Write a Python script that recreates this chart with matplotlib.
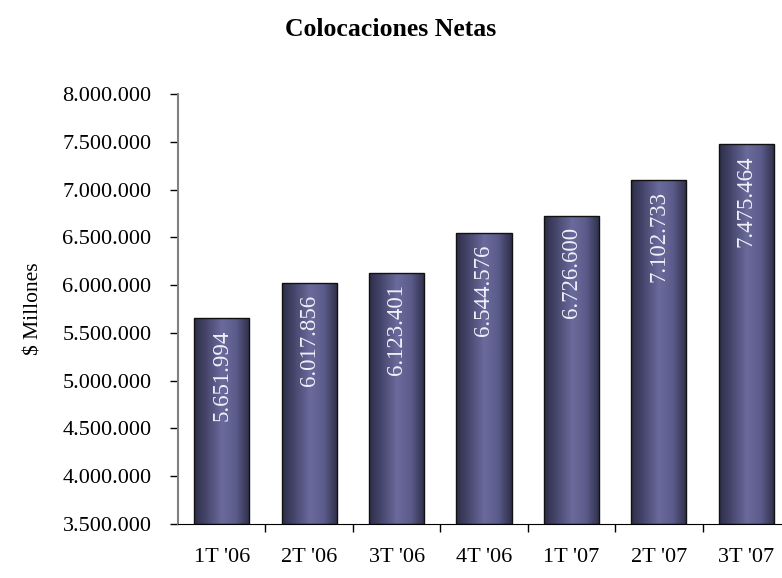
import numpy as np
import matplotlib
matplotlib.use("Agg")
import matplotlib.pyplot as plt
from matplotlib.colors import LinearSegmentedColormap
from matplotlib.patches import Rectangle

quarters = ["1T '06", "2T '06", "3T '06", "4T '06", "1T '07", "2T '07", "3T '07"]
values = [5651994, 6017856, 6123401, 6544576, 6726600, 7102733, 7475464]
yticks = [3500000, 4000000, 4500000, 5000000, 5500000, 6000000, 6500000, 7000000, 7500000, 8000000]


def fmt(v):
    return f"{v:,.0f}".replace(",", ".")


plt.rcParams["font.family"] = ["Liberation Serif", "DejaVu Serif"]

fig = plt.figure(figsize=(7.82, 5.78), dpi=100)
ax = fig.add_axes([178 / 782, 1 - 524 / 578, 612 / 782, 430 / 578])

# gradient bars: dark edges, lighter middle
cmap = LinearSegmentedColormap.from_list("bar", ["#2e2e48", "#4a4a72", "#6a6a9c", "#5c5c8c", "#2e2e48"])
grad = np.linspace(0, 1, 256).reshape(1, -1)
w = 0.63
x = np.arange(len(values))
ymin = yticks[0]
for xi, v in zip(x, values):
    x0, x1 = xi + 0.5 - w / 2, xi + 0.5 + w / 2
    im = ax.imshow(grad, cmap=cmap, aspect="auto", extent=(x0, x1, ymin, v), zorder=2)
    r = Rectangle((x0, ymin), w, v - ymin, facecolor="none", edgecolor="#111111", lw=1.0, zorder=3)
    ax.add_patch(r)
    im.set_clip_path(r)
    ax.annotate(fmt(v), (xi + 0.5, v), xytext=(0, -8), textcoords="offset points",
                rotation=90, ha="center", va="top", color="#f0f0f8", fontsize=16.5, zorder=4)

ax.set_xlim(0, len(values))
ax.set_ylim(yticks[0], yticks[-1])
ax.set_yticks(yticks)
ax.set_yticklabels([fmt(t) for t in yticks], fontsize=16)
ax.set_xticks(np.arange(1, len(values)))
ax.set_xticklabels([])
for xi, q in zip(x, quarters):
    ax.text(xi + 0.5, -0.055, q, transform=ax.get_xaxis_transform(), ha="center", va="top", fontsize=16)
ax.tick_params(axis="y", direction="out", length=6, width=1, color="black", pad=13)
ax.tick_params(axis="x", direction="out", length=6, width=1, color="black")
for s in ["top", "right"]:
    ax.spines[s].set_visible(False)
ax.spines["left"].set_color("#808080")
ax.spines["left"].set_linewidth(1.5)
ax.spines["bottom"].set_color("black")
ax.set_ylabel("$ Millones", fontsize=15.5, labelpad=14)
fig.text(0.5, 1 - 30 / 578, "Colocaciones Netas", ha="center", va="center", fontsize=18.5, fontweight="bold")

fig.savefig("out.png", dpi=100)
